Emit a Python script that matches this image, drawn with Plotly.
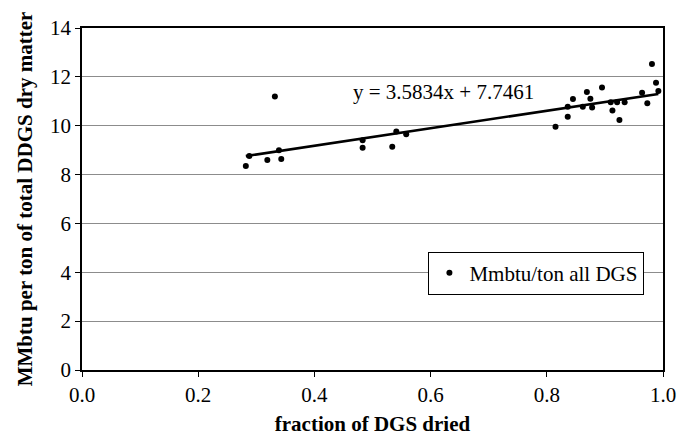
import plotly.graph_objects as go

frac_dried = [0.282, 0.288, 0.319, 0.332, 0.339, 0.343, 0.483, 0.483, 0.534, 0.541, 0.558,
              0.815, 0.836, 0.836, 0.845, 0.862, 0.869, 0.875, 0.878, 0.895, 0.910, 0.913,
              0.921, 0.925, 0.934, 0.964, 0.973, 0.981, 0.988, 0.992]
mmbtu_per_ton = [8.35, 8.76, 8.60, 11.20, 9.00, 8.64, 9.41, 9.10, 9.14, 9.76, 9.65,
                 9.96, 10.37, 10.78, 11.09, 10.78, 11.38, 11.10, 10.75, 11.56, 10.96, 10.62,
                 10.96, 10.23, 10.96, 11.35, 10.92, 12.53, 11.76, 11.42]
slope = 3.5834
intercept = 7.7461
x_ticks = [0.0, 0.2, 0.4, 0.6, 0.8, 1.0]
y_ticks = [0, 2, 4, 6, 8, 10, 12, 14]

trend_x = [min(frac_dried), max(frac_dried)]
trend_y = [slope * v + intercept for v in trend_x]

font = "Liberation Serif, Times New Roman, serif"

fig = go.Figure()
fig.add_trace(go.Scatter(x=trend_x, y=trend_y, mode="lines",
                         line=dict(color="black", width=2.6), showlegend=False, hoverinfo="skip"))
fig.add_trace(go.Scatter(x=frac_dried, y=mmbtu_per_ton, mode="markers",
                         marker=dict(color="black", size=6), name="Mmbtu/ton all DGS"))

fig.add_annotation(x=0.623, y=11.39, xref="x", yref="y", text="y = 3.5834x + 7.7461",
                   showarrow=False, font=dict(family=font, size=21, color="black"))

fig.update_layout(
    width=681, height=428,
    margin=dict(l=74, r=26, t=20, b=66),
    paper_bgcolor="white", plot_bgcolor="white",
    font=dict(family=font, size=21, color="black"),
    legend=dict(x=0.968, y=0.346, xanchor="right", yanchor="top",
                bgcolor="white", bordercolor="black", borderwidth=1,
                font=dict(family=font, size=21, color="black"),
                itemwidth=30, tracegroupgap=0),
)
fig.update_xaxes(range=[0, 1], tickvals=x_ticks, ticktext=[f"{v:.1f}" for v in x_ticks],
                 showgrid=False, zeroline=False, showline=True, linecolor="black", linewidth=1.5,
                 mirror=True, ticks="outside", ticklen=5, tickcolor="black", automargin=False,
                 title=dict(text="<b>fraction of DGS dried</b>", font=dict(family=font, size=21), standoff=10))
fig.update_yaxes(range=[0, 14], tickvals=y_ticks, showgrid=True, gridcolor="#8c8c8c", gridwidth=1,
                 zeroline=False, showline=True, linecolor="black", linewidth=1.5,
                 mirror=True, ticks="outside", ticklen=5, tickcolor="black", automargin=False,
                 title=dict(text="<b>MMbtu per ton of total DDGS dry matter</b>",
                            font=dict(family=font, size=21), standoff=12))

fig.write_html("out.html")
